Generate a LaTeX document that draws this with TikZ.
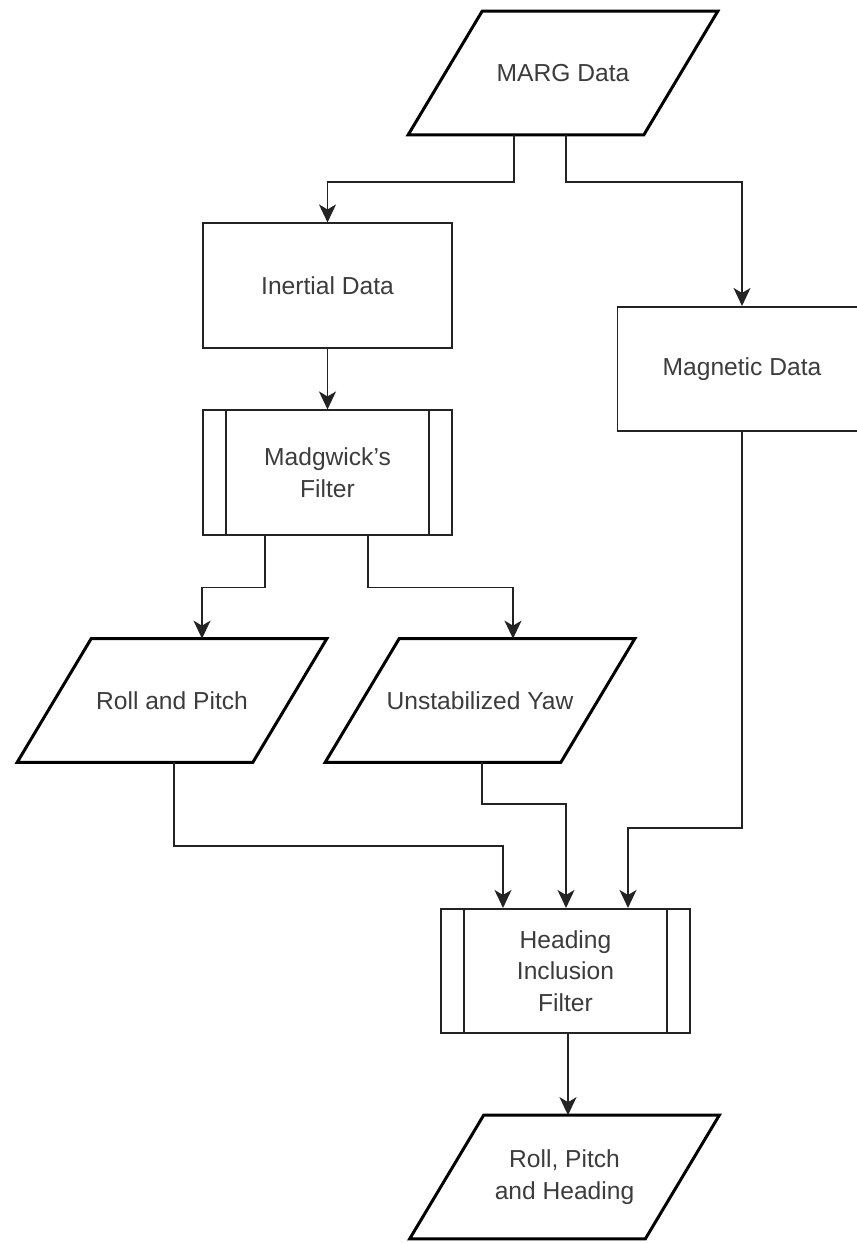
\documentclass[tikz,border=0pt]{standalone}
\usepackage{fontspec}
\setmainfont{Liberation Sans}
\usetikzlibrary{arrows.meta,calc}
\definecolor{inkgray}{RGB}{35,35,35}
\definecolor{textgray}{RGB}{60,60,60}

\begin{document}
\begin{tikzpicture}[x=0.02cm, y=-0.02cm,
        font=\fontsize{14pt}{18pt}\selectfont,
        procbox/.style={draw=inkgray, line width=0.9pt, text=textgray, align=center,
                        minimum width=4.98cm, minimum height=2.49cm, inner sep=0pt},
        databox/.style={text=textgray, align=center,
                        minimum width=4.70cm, minimum height=2.46cm, inner sep=0pt},
        flow/.style={draw=inkgray, line width=1pt,
                     -{Stealth[length=0.36cm, width=0.34cm, inset=0.10cm]}}]
    % Frame to fix the page size:
    \useasboundingbox (0,0) rectangle (857,1243);
    % Sensor data
    \node[databox]  (marg)      at (563.0,  73.0) {MARG Data};
    \node[procbox]  (inertial)  at (327.5, 285.5) {Inertial Data};
    \node[procbox]  (magnetic)  at (742.0, 369.0) {Magnetic Data};
    % Attitude estimation
    \node[procbox]  (madgwick)  at (327.5, 472.5) {Madgwick's\\Filter};
    \node[databox]  (rollpitch) at (172.0, 700.5) {Roll and Pitch};
    \node[databox]  (yaw)       at (480.0, 700.5) {Unstabilized Yaw};
    % Fusion
    \node[procbox]  (heading)   at (565.5, 971.0) {Heading\\Inclusion\\Filter};
    \node[databox]  (output)    at (564.5,1177.0) {Roll, Pitch\\and Heading};
    % Slanted outlines of the data nodes
    \foreach \n in {marg, rollpitch, yaw, output}
        \draw[black, line width=1.7pt]
            ([xshift= 0.74cm]\n.north west) -- ([xshift= 0.74cm]\n.north east) --
            ([xshift=-0.74cm]\n.south east) -- ([xshift=-0.74cm]\n.south west) -- cycle;
    % Side bars of the filter nodes
    \foreach \n in {madgwick, heading} {
        \draw[inkgray, line width=0.9pt] ([xshift= 0.48cm]\n.north west) -- ([xshift= 0.48cm]\n.south west);
        \draw[inkgray, line width=0.9pt] ([xshift=-0.48cm]\n.north east) -- ([xshift=-0.48cm]\n.south east);
    }
    % Connectors
    \draw[flow] ($(marg.south)+(-49,0)$)       -- ++(0, 47) -| (inertial.north);
    \draw[flow] ($(marg.south)+(3,0)$)         -- ++(0, 47) -| (magnetic.north);
    \draw[flow] (inertial.south)               -- (madgwick.north);
    \draw[flow] ($(madgwick.south)+(-62.5,0)$) -- ++(0, 52) -| ($(rollpitch.north)+(30,0)$);
    \draw[flow] ($(madgwick.south)+(40.5,0)$)  -- ++(0, 52) -| ($(yaw.north)+(33,0)$);
    \draw[flow] ($(rollpitch.south)+(2,0)$)    -- ++(0, 84) -| ($(heading.north)+(-62.5,0)$);
    \draw[flow] ($(yaw.south)+(2,0)$)          -- ++(0, 42) -| ($(heading.north)+(0.5,0)$);
    \draw[flow] (magnetic.south)               -- ++(0,396) -| ($(heading.north)+(62.5,0)$);
    \draw[flow] ($(heading.south)+(2.5,0)$)    -- ($(output.north)+(3.5,0)$);
\end{tikzpicture}
\end{document}
